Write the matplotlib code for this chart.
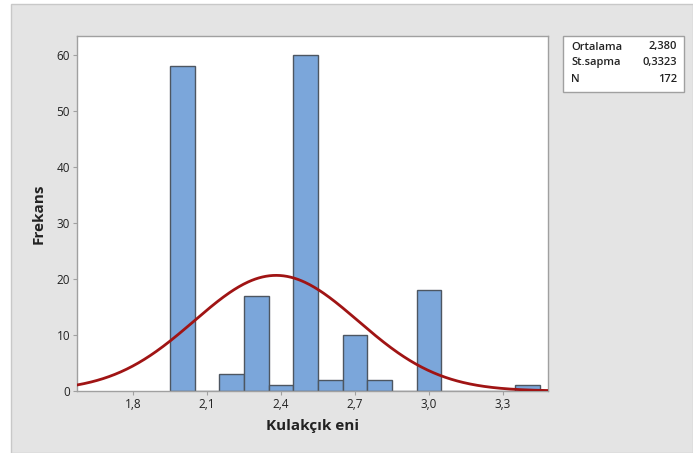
import numpy as np
import matplotlib
matplotlib.use("Agg")
import matplotlib.pyplot as plt
from matplotlib.patches import Rectangle

# histogram of ear width (Kulakçık eni), bin width 0.1
bin_centers = [2.0, 2.1, 2.2, 2.3, 2.4, 2.5, 2.6, 2.7, 2.8, 2.9, 3.0, 3.1, 3.2, 3.3, 3.4]
counts = [58, 0, 3, 17, 1, 60, 2, 10, 2, 0, 18, 0, 0, 0, 1]
bin_width = 0.1

mean = 2.380
std = 0.3323
n = 172

x_ticks = [1.8, 2.1, 2.4, 2.7, 3.0, 3.3]
y_ticks = [0, 10, 20, 30, 40, 50, 60]

plt.rcParams["font.family"] = ["Open Sans", "DejaVu Sans"]

W, H = 693, 453
fig = plt.figure(figsize=(W / 100, H / 100), dpi=100)
fig.patch.set_facecolor("white")
# grey panel behind the graph
fig.patches.append(Rectangle((11 / W, 0), 1 - 11 / W, 1 - 4 / H, transform=fig.transFigure,
                             facecolor="#e4e4e4", edgecolor="#c8c8c8", lw=1, zorder=-5))

ax = fig.add_axes([77 / W, 1 - 391 / H, (548 - 77) / W, (391 - 36) / H])
ax.set_zorder(1)
ax.set_facecolor("white")

ax.bar(bin_centers, counts, width=bin_width, color="#7ba6da", edgecolor="#4d5661",
       linewidth=1.0, zorder=2)

xs = np.linspace(1.572, 3.483, 400)
pdf = n * bin_width / (std * np.sqrt(2 * np.pi)) * np.exp(-0.5 * ((xs - mean) / std) ** 2)
ax.plot(xs, pdf, color="#a01414", lw=2.0, zorder=3)

ax.set_xlim(1.572, 3.483)
ax.set_ylim(0, 63.4)
ax.set_xticks(x_ticks)
ax.set_xticklabels([f"{t:.1f}".replace(".", ",") for t in x_ticks])
ax.set_yticks(y_ticks)
ax.tick_params(axis="both", length=3, width=0.8, color="#a0a0a0", labelsize=8.5,
               labelcolor="#222222", pad=2)
for s in ax.spines.values():
    s.set_color("#a0a0a0")
    s.set_linewidth(1.0)

ax.set_xlabel("Kulakçık eni", fontsize=11, fontweight="bold", color="#222222", labelpad=6)
ax.set_ylabel("Frekans", fontsize=11, fontweight="bold", color="#222222", labelpad=8)

# summary statistics box
bx0, bx1, by0, by1 = 563, 684, 36, 92
fig.patches.append(Rectangle((bx0 / W, 1 - by1 / H), (bx1 - bx0) / W, (by1 - by0) / H,
                             transform=fig.transFigure, facecolor="white",
                             edgecolor="#a0a0a0", lw=1, zorder=2))
rows = [("Ortalama", "2,380"), ("St.sapma", "0,3323"), ("N", f"{n}")]
for i, (lab, val) in enumerate(rows):
    yy = 1 - (47 + i * 16) / H
    fig.text(571 / W, yy, lab, fontsize=8, fontweight="semibold", color="#222222", va="center")
    fig.text(677 / W, yy, val, fontsize=8, fontweight="semibold", color="#222222",
             va="center", ha="right")

fig.savefig("out.png", dpi=100)
